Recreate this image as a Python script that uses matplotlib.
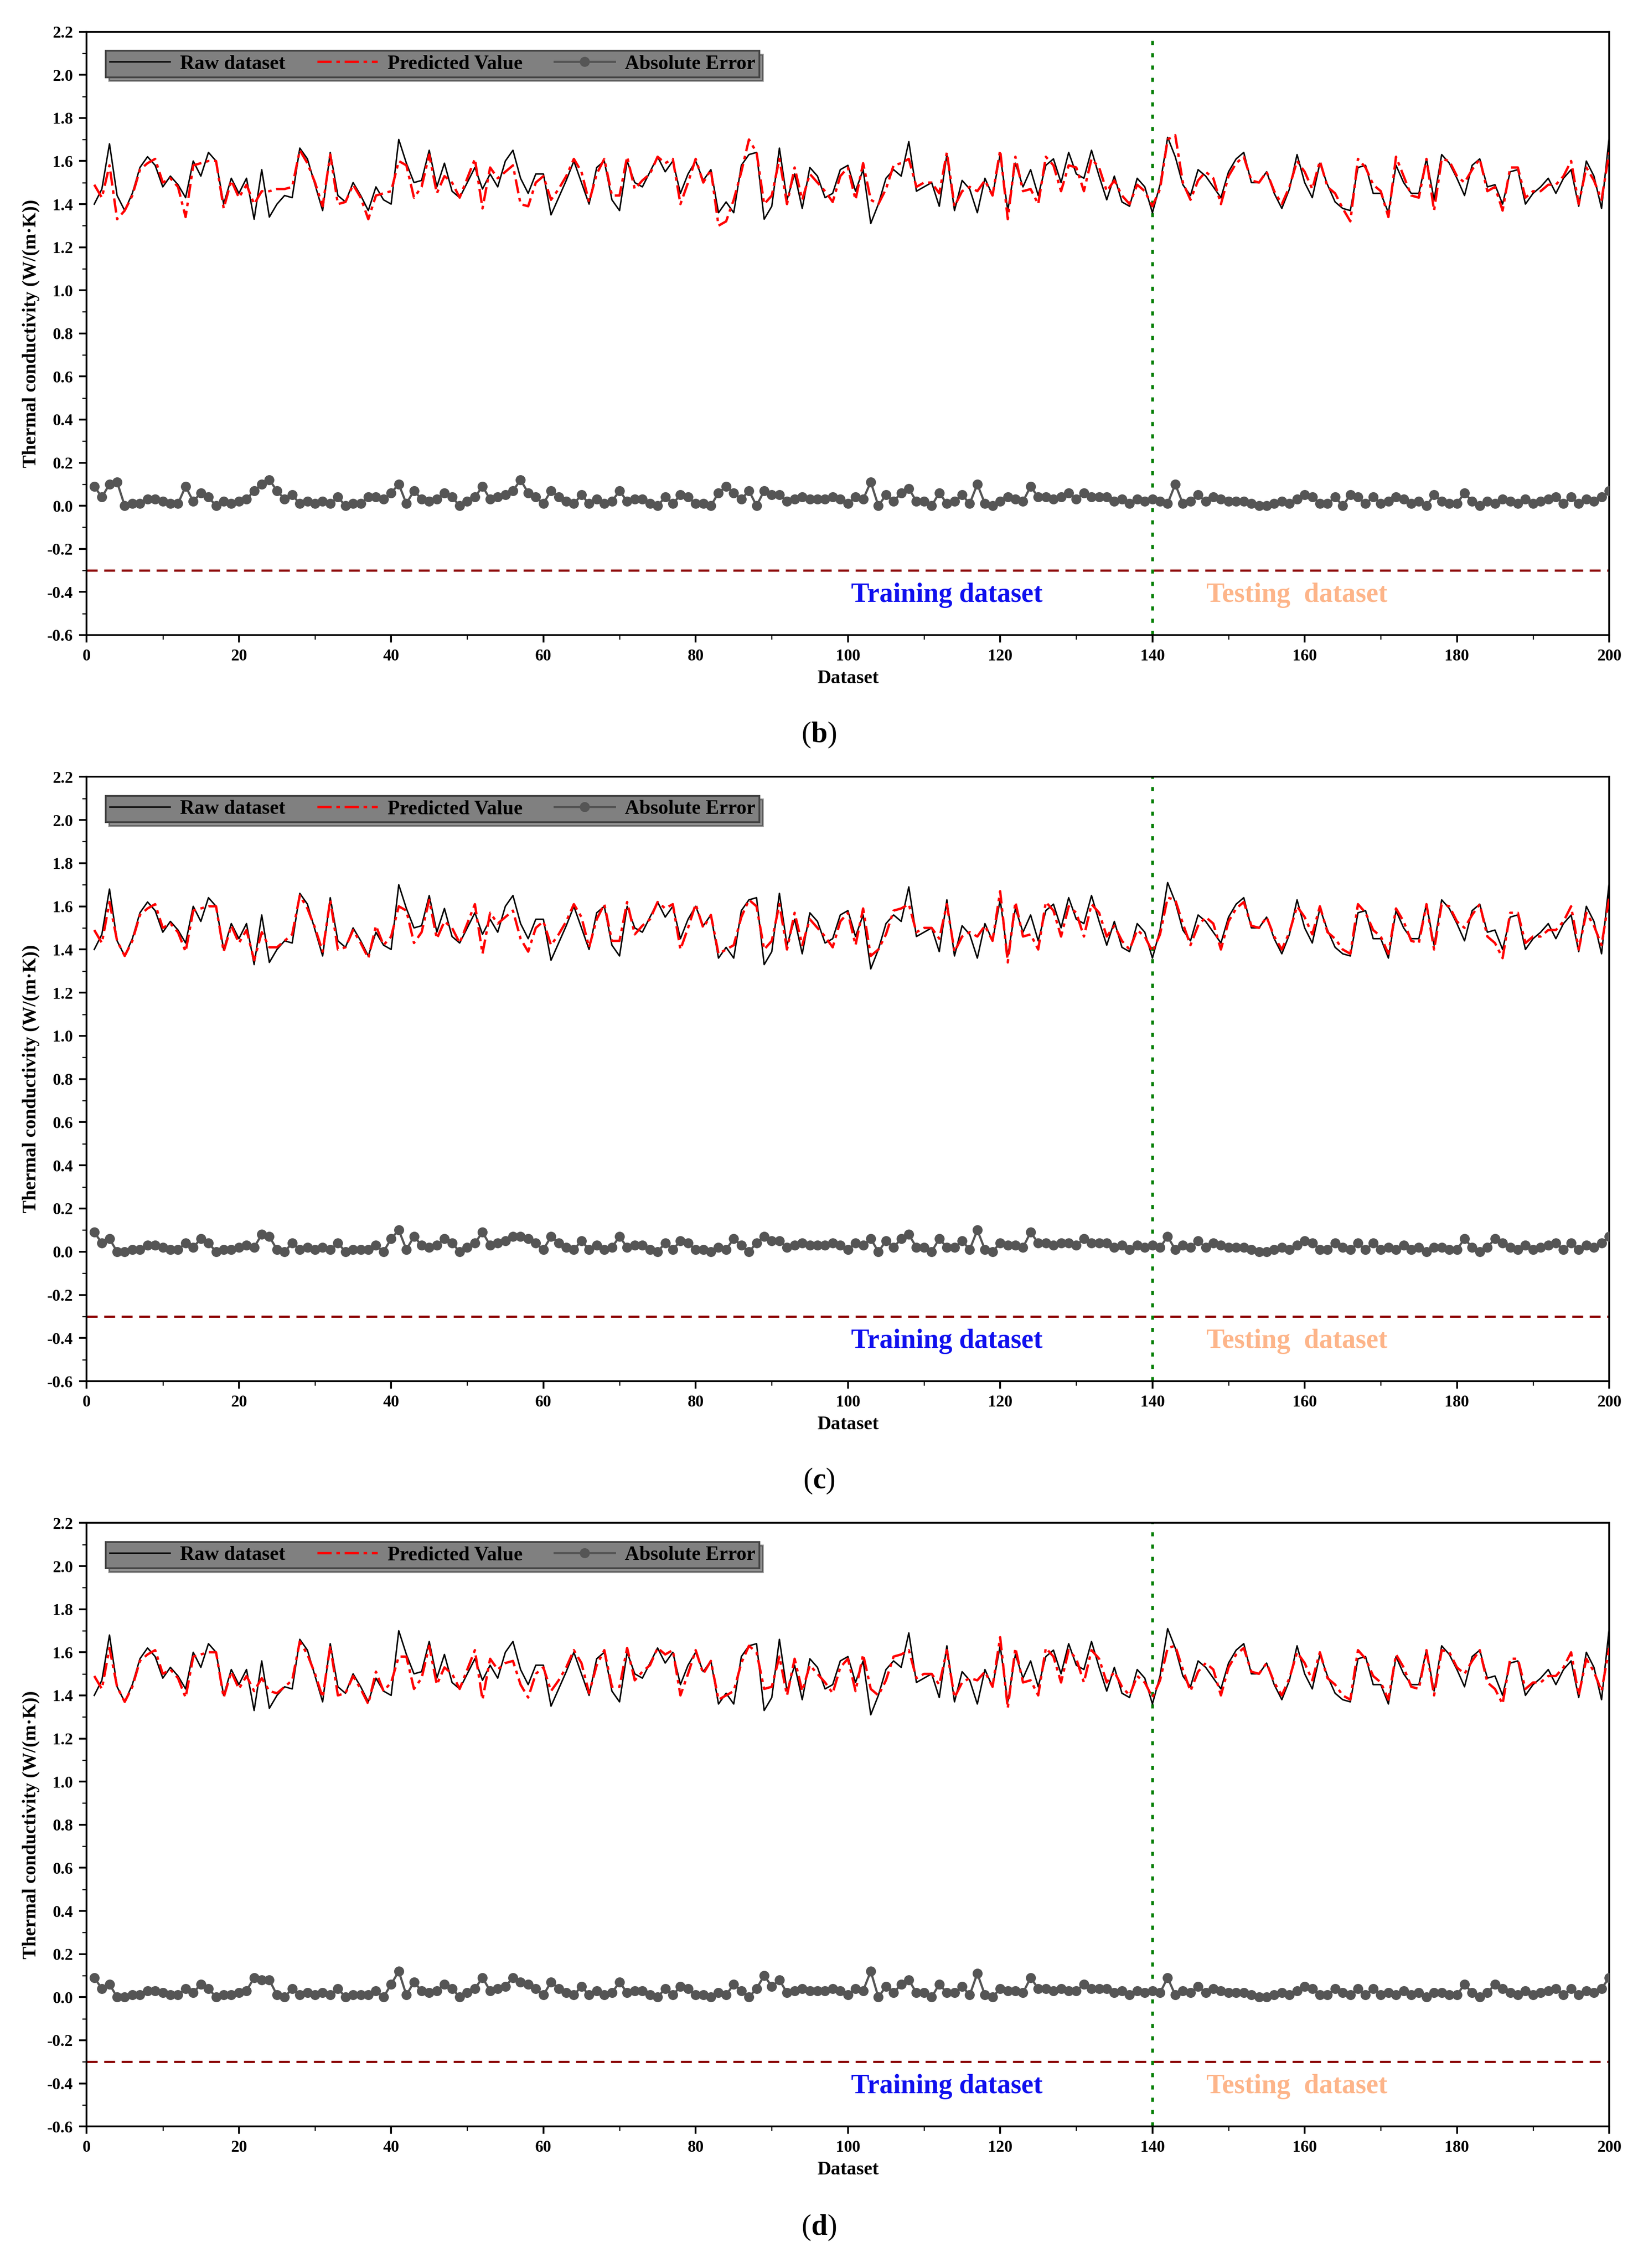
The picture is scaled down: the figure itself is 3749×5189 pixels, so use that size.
import numpy as np
import matplotlib
matplotlib.use("Agg")
import matplotlib.pyplot as plt
from matplotlib.ticker import MultipleLocator

plt.rcParams['font.family'] = ['Liberation Serif', 'DejaVu Serif']
plt.rcParams['font.weight'] = 'bold'
plt.rcParams['mathtext.fontset'] = 'custom'
plt.rcParams['mathtext.rm'] = 'Liberation Serif'
plt.rcParams['mathtext.bf'] = 'Liberation Serif:bold'

x = np.arange(1, 201)
raw = [1.40,1.47,1.68,1.44,1.37,1.45,1.57,1.62,1.58,1.48,
       1.53,1.49,1.43,1.60,1.53,1.64,1.60,1.40,1.52,1.45,
       1.52,1.33,1.56,1.34,1.40,1.44,1.43,1.66,1.61,1.49,
       1.37,1.64,1.44,1.41,1.50,1.44,1.37,1.48,1.42,1.40,
       1.70,1.59,1.50,1.51,1.65,1.48,1.59,1.46,1.43,1.50,
       1.57,1.47,1.54,1.48,1.60,1.65,1.52,1.45,1.54,1.54,
       1.35,1.43,1.51,1.60,1.50,1.40,1.57,1.60,1.42,1.37,
       1.60,1.50,1.48,1.55,1.62,1.55,1.60,1.45,1.54,1.60,
       1.51,1.56,1.36,1.41,1.36,1.58,1.63,1.64,1.33,1.39,
       1.66,1.42,1.54,1.38,1.57,1.53,1.43,1.45,1.56,1.58,
       1.46,1.56,1.31,1.40,1.52,1.56,1.53,1.69,1.46,1.48,
       1.50,1.39,1.63,1.37,1.51,1.47,1.36,1.52,1.44,1.63,
       1.37,1.59,1.48,1.56,1.44,1.58,1.61,1.50,1.64,1.54,
       1.52,1.65,1.53,1.42,1.53,1.41,1.39,1.52,1.48,1.36,
       1.49,1.71,1.62,1.49,1.44,1.56,1.53,1.48,1.43,1.55,
       1.61,1.64,1.50,1.50,1.55,1.45,1.38,1.47,1.63,1.50,
       1.43,1.59,1.49,1.41,1.38,1.37,1.57,1.58,1.45,1.45,
       1.36,1.58,1.50,1.45,1.45,1.61,1.42,1.63,1.59,1.52,
       1.44,1.58,1.61,1.48,1.49,1.40,1.55,1.56,1.40,1.45,
       1.48,1.52,1.45,1.52,1.56,1.39,1.60,1.53,1.38,1.71]

pred_c = [1.49,1.43,1.62,1.44,1.37,1.44,1.56,1.59,1.61,1.50,
          1.52,1.48,1.39,1.58,1.59,1.60,1.60,1.39,1.51,1.43,
          1.49,1.35,1.48,1.41,1.41,1.44,1.47,1.65,1.59,1.50,
          1.39,1.63,1.40,1.41,1.49,1.43,1.36,1.51,1.42,1.46,
          1.60,1.58,1.43,1.48,1.63,1.45,1.53,1.50,1.43,1.52,
          1.61,1.38,1.57,1.52,1.55,1.58,1.45,1.39,1.50,1.53,
          1.42,1.47,1.53,1.61,1.55,1.41,1.54,1.61,1.44,1.44,
          1.62,1.47,1.51,1.54,1.62,1.59,1.61,1.40,1.50,1.61,
          1.50,1.56,1.38,1.40,1.42,1.55,1.63,1.60,1.40,1.44,
          1.61,1.40,1.57,1.42,1.54,1.50,1.46,1.41,1.53,1.57,
          1.42,1.59,1.37,1.40,1.47,1.58,1.59,1.61,1.48,1.50,
          1.50,1.45,1.61,1.39,1.46,1.48,1.46,1.51,1.44,1.67,
          1.34,1.62,1.46,1.47,1.40,1.62,1.58,1.46,1.60,1.57,
          1.46,1.61,1.57,1.46,1.51,1.44,1.40,1.49,1.46,1.39,
          1.47,1.64,1.63,1.52,1.42,1.51,1.55,1.52,1.40,1.53,
          1.59,1.62,1.51,1.50,1.55,1.46,1.40,1.48,1.60,1.55,
          1.47,1.60,1.48,1.45,1.40,1.38,1.61,1.57,1.49,1.46,
          1.38,1.59,1.53,1.44,1.43,1.61,1.40,1.61,1.60,1.53,
          1.50,1.56,1.61,1.46,1.43,1.36,1.57,1.57,1.43,1.46,
          1.46,1.49,1.49,1.53,1.60,1.40,1.57,1.51,1.42,1.64]

# panel (b) predicted values that differ from panel (c): {sample: value}
pred_b_diff = {3:1.58,4:1.33,13:1.34,18:1.38,22:1.40,23:1.46,24:1.46,25:1.47,26:1.47,27:1.48,
               37:1.33,38:1.44,39:1.45,57:1.40,83:1.30,84:1.32,87:1.70,88:1.64,103:1.42,
               113:1.64,120:1.65,121:1.33,129:1.58,142:1.70,143:1.72,144:1.50,165:1.38,166:1.32,
               167:1.61,171:1.34,172:1.62,177:1.37,185:1.48,186:1.37}
# panel (d) predicted values that differ from panel (c)
pred_d_diff = {1:1.49,22:1.42,24:1.42,41:1.58,56:1.56,89:1.43,91:1.58,103:1.43,
               117:1.47,129:1.61,142:1.62,200:1.62}

def build(diff):
    p = list(pred_c)
    for k, v in diff.items():
        p[k-1] = v
    return p

panels = [("b", build(pred_b_diff)), ("c", pred_c), ("d", build(pred_d_diff))]
rects = [(0.986, 0.720, 0.676), (0.6575, 0.391, 0.347), (0.3285, 0.0624, 0.018)]
yt = np.round(np.arange(-0.6, 2.21, 0.2), 1)

fig = plt.figure(figsize=(3749/300, 5189/300), dpi=300)
L, R = 0.0529, 0.9824
for (lab, pred), (top, bot, ly) in zip(panels, rects):
    ax = fig.add_axes([L, bot, R-L, top-bot])
    rawa = np.array(raw); pa = np.array(pred)
    err = np.abs(rawa - pa)
    ax.plot(x, rawa, color='black', lw=0.8, label='Raw dataset', zorder=3)
    ax.plot(x, pa, color='red', lw=1.3, ls=(0, (6, 2, 1.5, 2)), label='Predicted Value', zorder=4)
    ax.plot(x, err, color='#555555', lw=1.2, marker='o', ms=4.5, label='Absolute Error', zorder=3)
    ax.axhline(-0.3, color='#8B0000', lw=1.2, ls=(0, (5, 3)))
    ax.axvline(140, color='green', lw=1.5, ls=(0, (1.5, 3)))
    ax.set_xlim(0, 200); ax.set_ylim(-0.6, 2.2)
    ax.xaxis.set_major_locator(MultipleLocator(20)); ax.xaxis.set_minor_locator(MultipleLocator(10))
    ax.yaxis.set_minor_locator(MultipleLocator(0.1))
    ax.set_yticks(yt)
    ax.set_yticklabels([f"{v:.1f}" for v in yt])
    ax.tick_params(labelsize=9, width=1, length=4)
    ax.tick_params(which='minor', length=2.5)
    for s in ax.spines.values():
        s.set_linewidth(1.0)
    ax.set_xlabel('Dataset', fontsize=10.5, fontweight='bold', labelpad=3)
    ax.set_ylabel('Thermal conductivity (W/(m·K))', fontsize=10.5, fontweight='bold', labelpad=4)
    ax.text(0.565, 0.066, 'Training dataset', color='#1010ee', fontsize=15, fontweight='bold',
            ha='center', va='center', transform=ax.transAxes)
    ax.text(0.795, 0.066, 'Testing  dataset', color='#FDB58A', fontsize=15, fontweight='bold',
            ha='center', va='center', transform=ax.transAxes)
    leg = ax.legend(loc='upper left', bbox_to_anchor=(0.006, 0.985), ncol=3,
                    prop={'size': 11, 'weight': 'bold'},
                    frameon=True, fancybox=False, shadow=True, handlelength=3.0,
                    columnspacing=1.6, borderpad=0.2, handletextpad=0.5)
    leg.get_frame().set_facecolor('#808080'); leg.get_frame().set_edgecolor('#444444')
    leg.get_frame().set_alpha(1)
    fig.text(0.5, ly, r"($\mathbf{" + lab + r"}$)", ha='center', va='center', fontsize=16,
             fontweight='normal')

fig.savefig('out.png', dpi=300)
